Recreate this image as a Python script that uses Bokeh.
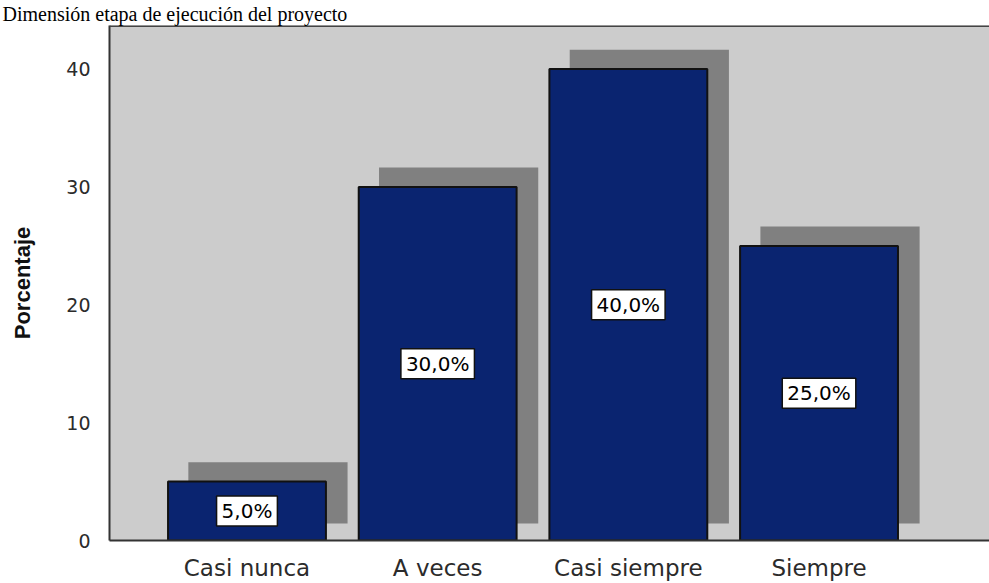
from bokeh.plotting import figure
from bokeh.models import Range1d, FixedTicker, Span, Title, ColumnDataSource
from bokeh.core.properties import value
from bokeh.embed import file_html
from bokeh.resources import INLINE

categories = ["Casi nunca", "A veces", "Casi siempre", "Siempre"]
percentages = [5.0, 30.0, 40.0, 25.0]
y_ticks = [0, 10, 20, 30, 40]
title_text = "Dimensión etapa de ejecución del proyecto"
y_label = "Porcentaje"

xs = list(range(1, len(categories) + 1))
labels = [f"{v:.1f}%".replace(".", ",") for v in percentages]

src = ColumnDataSource(dict(
    x=xs,
    top=percentages,
    mid=[v / 2 for v in percentages],
    label=labels,
    sx=[x + 0.11 for x in xs],
    stop=[v + 1.65 for v in percentages],
))

Y_END = 43.7

p = figure(width=989, height=583, output_backend="svg", toolbar_location=None,
           x_range=Range1d(0.279, 4.894), y_range=Range1d(0, Y_END),
           min_border_left=109, min_border_right=0, min_border_top=24,
           min_border_bottom=39)

p.title = Title(text=title_text, align="left", offset=-107,
                text_font="Liberation Serif", text_font_size="20px",
                text_font_style="normal", text_color="black",
                standoff=1, text_line_height=1.0)

p.background_fill_color = "#cccccc"
p.border_fill_color = "white"
p.outline_line_color = None
p.xgrid.visible = False
p.ygrid.visible = False

# shadows
p.vbar(x="sx", bottom=1.45, top="stop", width=0.835, source=src,
       fill_color="#808080", line_color=None)
# bars
p.vbar(x="x", bottom=0, top="top", width=0.828, source=src,
       fill_color="#0a2470", line_color="#111111", line_width=2)

# value labels
p.text(x="x", y="mid", text="label", source=src,
       text_font=value("DejaVu Sans"), text_font_size=value("20px"),
       text_color="black", text_align="center", text_baseline="middle",
       background_fill_color="white", border_line_color="#111111",
       border_line_width=1.5, padding=dict(left=5, right=5, top=3, bottom=3))

# axes
p.xaxis.ticker = FixedTicker(ticks=xs)
p.xaxis.major_label_overrides = {x: c for x, c in zip(xs, categories)}
p.xaxis.major_tick_line_color = None
p.xaxis.minor_tick_line_color = None
p.xaxis.axis_line_color = "#333333"
p.xaxis.axis_line_width = 2
p.xaxis.major_label_text_font = "DejaVu Sans"
p.xaxis.major_label_text_font_size = "23px"
p.xaxis.major_label_text_color = "#2b2b2b"
p.xaxis.major_label_standoff = 8

p.yaxis.ticker = FixedTicker(ticks=y_ticks)
p.yaxis.major_tick_line_color = None
p.yaxis.minor_tick_line_color = None
p.yaxis.axis_line_color = "#333333"
p.yaxis.axis_line_width = 2
p.yaxis.major_label_text_font = "DejaVu Sans"
p.yaxis.major_label_text_font_size = "19px"
p.yaxis.major_label_text_color = "#2b2b2b"
p.yaxis.major_label_standoff = 13
p.yaxis.axis_label = y_label
p.yaxis.axis_label_text_font = "Liberation Sans"
p.yaxis.axis_label_text_font_style = "bold"
p.yaxis.axis_label_text_font_size = "22px"
p.yaxis.axis_label_text_color = "#111111"
p.yaxis.axis_label_standoff = 28

p.add_layout(Span(location=Y_END, dimension="width", line_color="#444444", line_width=3))

open("out.html", "w").write(file_html(p, INLINE))
